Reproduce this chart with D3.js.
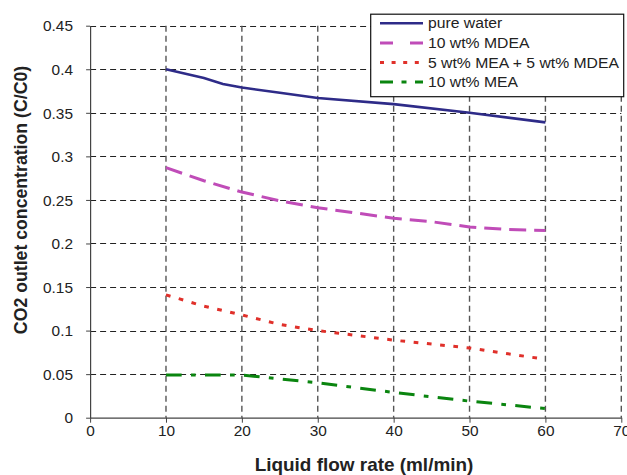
<!DOCTYPE html>
<html><head><meta charset="utf-8">
<script src="https://cdn.jsdelivr.net/npm/d3@7"></script>
<style>
html,body{margin:0;padding:0;background:#fff;}
text{font-family:"Liberation Sans",Arial,Helvetica,sans-serif;}
</style></head>
<body><svg id="c" width="627" height="475"></svg>
<script>
// ---- data ----
const xTickValues = [0, 10, 20, 30, 40, 50, 60, 70];
const yTickValues = [0, 0.05, 0.1, 0.15, 0.2, 0.25, 0.3, 0.35, 0.4, 0.45];
const yTickLabels = ["0", "0.05", "0.1", "0.15", "0.2", "0.25", "0.3", "0.35", "0.4", "0.45"];
const seriesNames = ["pure water", "10 wt% MDEA", "5 wt% MEA + 5 wt% MDEA", "10 wt% MEA"];
const waterX = [10, 15, 17.5, 20, 25, 30, 40, 50, 60];
const waterY = [0.400, 0.390, 0.383, 0.379, 0.373, 0.367, 0.360, 0.350, 0.339];
const mdeaX = [10, 15, 20, 25, 30, 40, 45, 50, 55, 60];
const mdeaY = [0.287, 0.272, 0.259, 0.249, 0.241, 0.229, 0.225, 0.219, 0.216, 0.215];
const mixX = [10, 15, 20, 25, 30, 40, 50, 60];
const mixY = [0.141, 0.128, 0.118, 0.107, 0.100, 0.089, 0.080, 0.067];
const meaX = [10, 20, 30, 40, 50, 60];
const meaY = [0.049, 0.049, 0.040, 0.029, 0.019, 0.0105];
const xTitle = "Liquid flow rate (ml/min)";
const yTitle = "CO2 outlet concentration (C/C0)";

const series = [
  {name: seriesNames[0], x: waterX, y: waterY, color: "#2e2b88", width: 2.6, dash: null, legendDash: null},
  {name: seriesNames[1], x: mdeaX, y: mdeaY, color: "#c04cb8", width: 3, dash: "17,8", legendDash: "13,17"},
  {name: seriesNames[2], x: mixX, y: mixY, color: "#e0302a", width: 3, dash: "4.7,8.6", legendDash: "4,7.6"},
  {name: seriesNames[3], x: meaX, y: meaY, color: "#0a850f", width: 3, dash: "15.7,9.3,4.7,9.3", legendDash: "13,8.5,5,8.5"}
];

// ---- layout ----
const W = 627, H = 475;
const m = {left: 90.1, right: 5.7, top: 25.7, bottom: 57.3};
const SX = 1.07; // horizontal text stretch
const svg = d3.select("#c");
const x = d3.scaleLinear().domain([0, 70]).range([m.left, W - m.right]);
const y = d3.scaleLinear().domain([0, 0.45]).range([H - m.bottom, m.top]);

// grid
const grid = svg.append("g");
grid.selectAll("line.h").data(yTickValues.filter(d => d > 0)).join("line")
  .attr("x1", x(0)).attr("x2", x(70))
  .attr("y1", d => Math.round(y(d)) + 0.5).attr("y2", d => Math.round(y(d)) + 0.5)
  .attr("stroke", "#222").attr("stroke-width", 1).attr("stroke-dasharray", "6,4");
grid.selectAll("line.v").data(xTickValues.filter(d => d > 0)).join("line")
  .attr("x1", d => x(d)).attr("x2", d => x(d))
  .attr("y1", y(0.45)).attr("y2", y(0))
  .attr("stroke", "#555").attr("stroke-width", 1.4).attr("stroke-dasharray", "6,4");

// axes
const xAxis = svg.append("g").attr("transform", `translate(0,${y(0)})`)
  .call(d3.axisBottom(x).tickValues(xTickValues).tickFormat(d3.format("d")).tickSizeInner(5).tickSizeOuter(0).tickPadding(3));
const yAxis = svg.append("g").attr("transform", `translate(${x(0)},0)`)
  .call(d3.axisLeft(y).tickValues(yTickValues).tickFormat((d, i) => yTickLabels[i]).tickSizeInner(4).tickSizeOuter(0).tickPadding(12));
[xAxis, yAxis].forEach(a => {
  a.select(".domain").attr("stroke", "#444").attr("stroke-width", 1.2);
  a.selectAll(".tick line").attr("stroke", "#444");
  a.selectAll(".tick text").attr("fill", "#222").attr("font-size", 14.4)
    .attr("font-family", "'Liberation Sans', Arial, sans-serif");
});
xAxis.selectAll(".tick text").attr("transform", `scale(${SX},1)`);
yAxis.selectAll(".tick text").attr("transform", `scale(${SX},1)`).attr("dy", "0.36em");

// lines
const line = d3.line().x(d => x(d[0])).y(d => y(d[1]));
svg.append("g").selectAll("path").data(series).join("path")
  .attr("d", s => line(s.x.map((v, i) => [v, s.y[i]])))
  .attr("fill", "none").attr("stroke", s => s.color).attr("stroke-width", s => s.width)
  .attr("stroke-dasharray", s => s.dash);

// legend
const lg = svg.append("g");
lg.append("rect").attr("x", 370.7).attr("y", 14.2).attr("width", 253).attr("height", 82.5)
  .attr("fill", "#fff").attr("stroke", "#111").attr("stroke-width", 1.2);
const rows = lg.selectAll("g.row").data(series).join("g")
  .attr("transform", (s, i) => `translate(380,${23.3 + i * 19.6})`);
rows.append("line").attr("x1", 0).attr("x2", 43).attr("y1", 0).attr("y2", 0)
  .attr("stroke", s => s.color).attr("stroke-width", s => s.width).attr("stroke-dasharray", s => s.legendDash);
rows.append("text").attr("transform", `translate(48,5) scale(${SX},1)`)
  .attr("font-size", 14.7).attr("fill", "#222").text(s => s.name);

// titles
svg.append("text").attr("transform", `translate(364,471) scale(${SX},1)`)
  .attr("text-anchor", "middle").attr("font-weight", "bold").attr("font-size", 17.7).attr("fill", "#222").text(xTitle);
svg.append("text").attr("transform", `translate(27,200) rotate(-90)`)
  .attr("text-anchor", "middle").attr("font-weight", "bold").attr("font-size", 17.7).attr("fill", "#222").text(yTitle);
</script></body></html>
